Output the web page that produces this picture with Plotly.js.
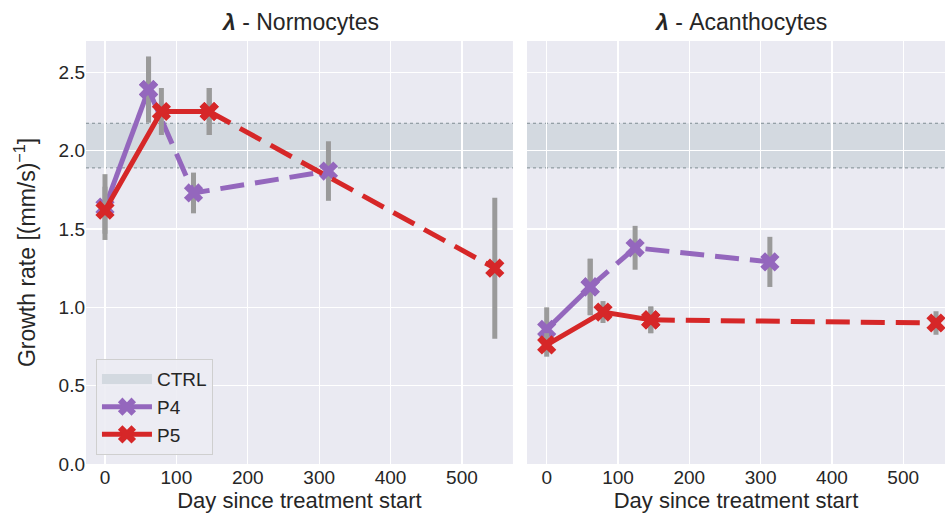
<!DOCTYPE html>
<html>
<head>
<meta charset="utf-8">
<script src="https://cdn.plot.ly/plotly-3.0.1.min.js"></script>
<style>html,body{margin:0;padding:0;background:#fff;}#chart{width:945px;height:517px;}</style>
</head>
<body>
<div id="chart"></div>
<script>
// ---- data ----
const daysP4 = [0, 61, 124, 313];
const daysP5 = [0, 79, 146, 546];
const normP4 = [1.64, 2.39, 1.73, 1.87];
const normP4Err = [0.21, 0.21, 0.13, 0.19];
const normP5 = [1.62, 2.25, 2.25, 1.25];
const normP5Err = [0.15, 0.15, 0.15, 0.45];
const acanP4 = [0.86, 1.13, 1.38, 1.29];
const acanP4Err = [0.14, 0.18, 0.14, 0.16];
const acanP5 = [0.76, 0.97, 0.92, 0.90];
const acanP5Err = [0.075, 0.07, 0.085, 0.075];
const ctrlLow = 1.89;
const ctrlHigh = 2.175;
const solidUpTo = {P4: 1, P5: 2};   // last index of solid segment
const panelTitles = ["<i><b>λ</b></i> - Normocytes", "<i><b>λ</b></i> - Acanthocytes"];
const xTitle = "Day since treatment start";
const yTitle = "Growth rate [(mm/s)<sup>−1</sup>]";

const colors = {P4: "#9467bd", P5: "#d62728"};
const errColor = "#9a9a9a";
const bandColor = "#d3d9e0";

function seriesTraces(name, days, vals, errs, xa, ya, showLeg) {
  const k = solidUpTo[name];
  const common = {
    type: "scatter", mode: "lines+markers", xaxis: xa, yaxis: ya,
    legendgroup: name, name: name,
    marker: {symbol: "x", size: 17, color: colors[name]},
    error_y: {type: "data", visible: true, thickness: 5, width: 0, color: errColor}
  };
  const solid = Object.assign({}, common, {
    x: days.slice(0, k + 1), y: vals.slice(0, k + 1),
    line: {color: colors[name], width: 5},
    showlegend: showLeg, legendrank: name === "P4" ? 2 : 3,
    error_y: Object.assign({}, common.error_y, {array: errs.slice(0, k + 1)})
  });
  const dashed = Object.assign({}, common, {
    x: days.slice(k), y: vals.slice(k),
    line: {color: colors[name], width: 5, dash: "24px,11px"},
    showlegend: false,
    error_y: Object.assign({}, common.error_y, {array: errs.slice(k)})
  });
  return [solid, dashed];
}

const ctrlLegend = {
  type: "scatter", mode: "lines", x: [null], y: [null], name: "CTRL",
  line: {color: bandColor, width: 14}, showlegend: true, legendrank: 1, hoverinfo: "skip"
};

const data = [ctrlLegend].concat(
  seriesTraces("P4", daysP4, normP4, normP4Err, "x", "y", true),
  seriesTraces("P5", daysP5, normP5, normP5Err, "x", "y", true),
  seriesTraces("P4", daysP4, acanP4, acanP4Err, "x2", "y2", false),
  seriesTraces("P5", daysP5, acanP5, acanP5Err, "x2", "y2", false)
);

function band(xr, yr) {
  return [
    {type: "rect", xref: xr + " domain", yref: yr, x0: 0, x1: 1, y0: ctrlLow, y1: ctrlHigh,
     fillcolor: bandColor, line: {width: 0}, layer: "below"},
    {type: "line", xref: xr + " domain", yref: yr, x0: 0, x1: 1, y0: ctrlLow, y1: ctrlLow,
     line: {color: "#7f8c92", width: 1, dash: "dot"}, layer: "below"},
    {type: "line", xref: xr + " domain", yref: yr, x0: 0, x1: 1, y0: ctrlHigh, y1: ctrlHigh,
     line: {color: "#7f8c92", width: 1, dash: "dot"}, layer: "below"}
  ];
}

const font = {family: "Liberation Sans, Arial, sans-serif", color: "#262626"};
const axBase = {
  showgrid: true, gridcolor: "#ffffff", gridwidth: 1.2, zeroline: false,
  showline: false, ticks: "", tickfont: Object.assign({}, font, {size: 19})
};

const layout = {
  width: 945, height: 517,
  margin: {l: 86, r: 0, t: 41, b: 53},
  paper_bgcolor: "#ffffff", plot_bgcolor: "#eaeaf2",
  font: font,
  showlegend: true,
  legend: {
    x: 0.0116, y: 0.021, xanchor: "left", yanchor: "bottom",
    bgcolor: "rgba(236,236,243,0.9)", bordercolor: "#cfcfcf", borderwidth: 1,
    font: Object.assign({}, font, {size: 19}), itemwidth: 50, tracegroupgap: 0,
    traceorder: "normal"
  },
  xaxis: Object.assign({}, axBase, {
    domain: [0, 0.497], range: [-26.6, 571.4], tickvals: [0, 100, 200, 300, 400, 500],
    title: {text: xTitle, font: Object.assign({}, font, {size: 22}), standoff: 2}
  }),
  xaxis2: Object.assign({}, axBase, {
    domain: [0.5134, 1], range: [-27.6, 558.6], tickvals: [0, 100, 200, 300, 400, 500],
    title: {text: xTitle, font: Object.assign({}, font, {size: 22}), standoff: 2}
  }),
  yaxis: Object.assign({}, axBase, {
    range: [0, 2.7], tickvals: [0, 0.5, 1, 1.5, 2, 2.5], tickformat: ".1f",
    title: {text: yTitle, font: Object.assign({}, font, {size: 23}), standoff: 16}
  }),
  yaxis2: Object.assign({}, axBase, {
    anchor: "x2", range: [0, 2.7], tickvals: [0, 0.5, 1, 1.5, 2, 2.5], showticklabels: false
  }),
  shapes: [].concat(band("x", "y"), band("x2", "y2")),
  annotations: [
    {text: panelTitles[0], xref: "paper", yref: "paper", x: (300 - 86) / 859, y: 1, yshift: 4,
     xanchor: "center", yanchor: "bottom", showarrow: false, font: Object.assign({}, font, {size: 23})},
    {text: panelTitles[1], xref: "paper", yref: "paper", x: (740 - 86) / 859, y: 1, yshift: 4,
     xanchor: "center", yanchor: "bottom", showarrow: false, font: Object.assign({}, font, {size: 23})}
  ]
};

Plotly.newPlot("chart", data, layout, {displayModeBar: false, staticPlot: true});
</script>
</body>
</html>
